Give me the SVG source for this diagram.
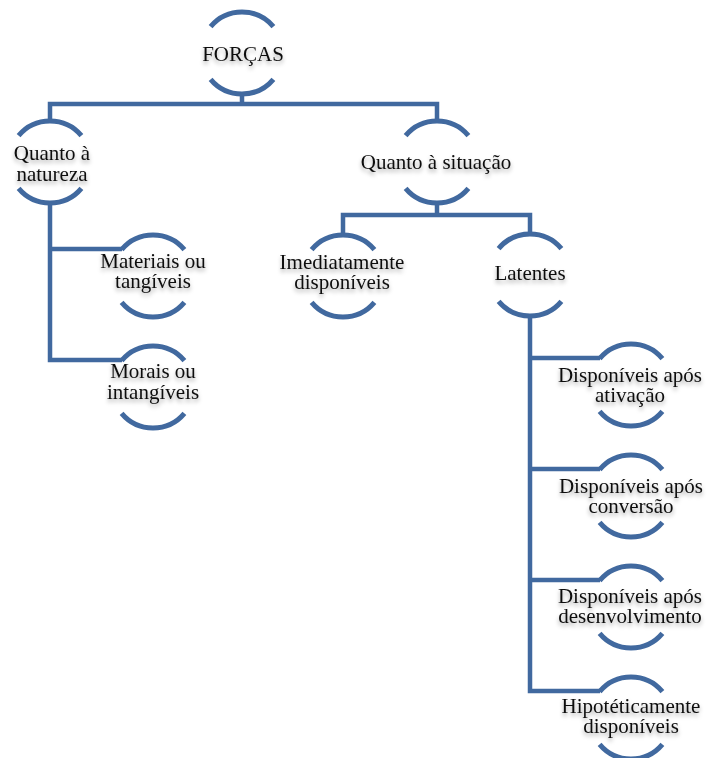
<svg xmlns="http://www.w3.org/2000/svg" xmlns:xlink="http://www.w3.org/1999/xlink" width="708" height="758" viewBox="0 0 708 758">
  <style>
    .conn { fill: none; stroke: #41699f; stroke-width: 4.5; stroke-linejoin: miter; }
    .arc { fill: none; stroke: #41699f; stroke-width: 5; }
    .lbl { font-family: "Liberation Serif", "Times New Roman", serif; font-size: 21px; fill: #111; text-anchor: middle; filter: url(#soft); }
  </style>
  <defs>
    <filter id="soft" x="-20%" y="-40%" width="140%" height="200%">
      <feDropShadow dx="0" dy="3" stdDeviation="2" flood-color="#000" flood-opacity="0.35"/>
    </filter>
    <!-- pair of arcs forming an open ring, centred on 0,0 -->
    <g id="ring">
      <path class="arc" d="M-31.4,-26.4 A41,41 0 0 1 31.4,-26.4"/>
      <path class="arc" d="M-31.4,26.4 A41,41 0 0 0 31.4,26.4"/>
    </g>
  </defs>

  <rect width="708" height="758" fill="#fff"/>

  <g id="connectors">
    <path class="conn" d="M242,93 V104"/>
    <path class="conn" d="M50,121 V104 H437 V121"/>
    <path class="conn" d="M50,203 V360 H122"/>
    <path class="conn" d="M50,249 H122"/>
    <path class="conn" d="M437,203 V215"/>
    <path class="conn" d="M343,235 V215 H530 V234"/>
    <path class="conn" d="M530,316 V691 H600"/>
    <path class="conn" d="M530,358 H600"/>
    <path class="conn" d="M530,469 H600"/>
    <path class="conn" d="M530,580 H600"/>
  </g>

  <g id="forcas">
    <use xlink:href="#ring" x="242" y="53"/>
    <text class="lbl" x="243" y="61">FORÇAS</text>
  </g>

  <g id="quanto-natureza">
    <use xlink:href="#ring" x="50" y="162"/>
    <text class="lbl" y="160"><tspan x="52">Quanto à</tspan><tspan x="52" dy="21">natureza</tspan></text>
  </g>

  <g id="quanto-situacao">
    <use xlink:href="#ring" x="437" y="162"/>
    <text class="lbl" x="436" y="169">Quanto à situação</text>
  </g>

  <g id="materiais">
    <use xlink:href="#ring" x="153" y="276"/>
    <text class="lbl" y="268"><tspan x="153">Materiais ou</tspan><tspan x="153" dy="20">tangíveis</tspan></text>
  </g>

  <g id="morais">
    <use xlink:href="#ring" x="153" y="387"/>
    <text class="lbl" y="378"><tspan x="153">Morais ou</tspan><tspan x="153" dy="21">intangíveis</tspan></text>
  </g>

  <g id="imediatamente">
    <use xlink:href="#ring" x="343" y="276"/>
    <text class="lbl" y="269"><tspan x="342">Imediatamente</tspan><tspan x="342" dy="20">disponíveis</tspan></text>
  </g>

  <g id="latentes">
    <use xlink:href="#ring" x="530" y="275"/>
    <text class="lbl" x="530" y="280">Latentes</text>
  </g>

  <g id="apos-ativacao">
    <use xlink:href="#ring" x="631" y="385"/>
    <text class="lbl" y="382"><tspan x="630">Disponíveis após</tspan><tspan x="630" dy="20">ativação</tspan></text>
  </g>

  <g id="apos-conversao">
    <use xlink:href="#ring" x="631" y="496"/>
    <text class="lbl" y="493"><tspan x="631">Disponíveis após</tspan><tspan x="631" dy="20">conversão</tspan></text>
  </g>

  <g id="apos-desenvolvimento">
    <use xlink:href="#ring" x="631" y="607"/>
    <text class="lbl" y="603"><tspan x="630">Disponíveis após</tspan><tspan x="630" dy="20">desenvolvimento</tspan></text>
  </g>

  <g id="hipoteticamente">
    <use xlink:href="#ring" x="631" y="718"/>
    <text class="lbl" y="713"><tspan x="631">Hipotéticamente</tspan><tspan x="631" dy="20">disponíveis</tspan></text>
  </g>
</svg>
